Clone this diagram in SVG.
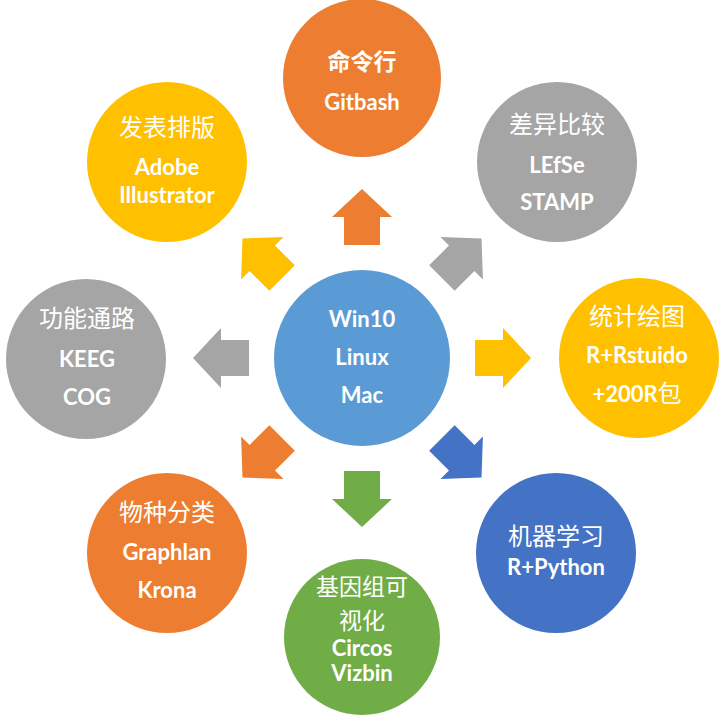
<svg xmlns="http://www.w3.org/2000/svg" width="723" height="715" viewBox="0 0 723 715">
<style>
.lat{font-family:Lato,"Open Sans","Noto Sans CJK SC",sans-serif;font-weight:700;font-size:22px;fill:#fff;text-anchor:middle}
.cjk{font-family:"Noto Sans CJK SC",sans-serif;font-weight:400;font-size:24px;fill:#fff;text-anchor:middle}
.cjkb{font-family:"Noto Sans CJK SC",sans-serif;font-weight:700;font-size:23px;fill:#fff;text-anchor:middle}
.orange{fill:#ED7D31}.grey{fill:#A5A5A5}.gold{fill:#FFC000}.blue{fill:#5B9BD5}.dblue{fill:#4472C4}.green{fill:#70AD47}
</style>
<defs>
<path id="arr" d="M-18,-113 L-18,-141 L-30,-141 L0,-169 L30,-141 L18,-141 L18,-113 Z"/>
</defs>
<rect width="723" height="715" fill="#fff"/>
<g id="connectors" transform="translate(362,358)">
<use href="#arr" class="orange" transform="rotate(0)"/>
<use href="#arr" class="grey" transform="rotate(45)"/>
<use href="#arr" class="gold" transform="rotate(90)"/>
<use href="#arr" class="dblue" transform="rotate(135)"/>
<use href="#arr" class="green" transform="rotate(180)"/>
<use href="#arr" class="orange" transform="rotate(225)"/>
<use href="#arr" class="grey" transform="rotate(270)"/>
<use href="#arr" class="gold" transform="rotate(315)"/>
</g>
<g id="center">
<circle cx="362" cy="358" r="88" class="blue"/>
<text class="lat" x="362" y="327">Win10</text>
<text class="lat" x="362" y="365">Linux</text>
<text class="lat" x="362" y="403">Mac</text>
</g>
<g id="top">
<circle cx="362" cy="78" r="79" class="orange"/>
<text class="cjkb" x="362" y="70">命令行</text>
<text class="lat" x="362" y="110">Gitbash</text>
</g>
<g id="topright">
<circle cx="557" cy="162" r="80" class="grey"/>
<text class="cjk" x="557" y="133">差异比较</text>
<text class="lat" x="557" y="173">LEfSe</text>
<text class="lat" x="557" y="210">STAMP</text>
</g>
<g id="right">
<circle cx="639" cy="358" r="80" class="gold"/>
<text class="cjk" x="637" y="325">统计绘图</text>
<text class="lat" x="637" y="363">R+Rstuido</text>
<text class="lat" x="637" y="402">+200R<tspan class="cjk" style="font-size:24px">包</tspan></text>
</g>
<g id="bottomright">
<circle cx="556" cy="553" r="80" class="dblue"/>
<text class="cjk" x="556" y="545">机器学习</text>
<text class="lat" x="556" y="575">R+Python</text>
</g>
<g id="bottom">
<circle cx="362" cy="637" r="78" class="green"/>
<text class="cjk" x="362" y="595" style="font-size:23px">基因组可</text>
<text class="cjk" x="362" y="629" style="font-size:23px">视化</text>
<text class="lat" x="362" y="656">Circos</text>
<text class="lat" x="362" y="681">Vizbin</text>
</g>
<g id="bottomleft">
<circle cx="167" cy="553" r="80" class="orange"/>
<text class="cjk" x="167" y="521">物种分类</text>
<text class="lat" x="167" y="560">Graphlan</text>
<text class="lat" x="167" y="598">Krona</text>
</g>
<g id="left">
<circle cx="86" cy="359" r="80" class="grey"/>
<text class="cjk" x="87" y="327">功能通路</text>
<text class="lat" x="87" y="367">KEEG</text>
<text class="lat" x="87" y="405">COG</text>
</g>
<g id="topleft">
<circle cx="167" cy="162" r="80" class="gold"/>
<text class="cjk" x="167" y="136">发表排版</text>
<text class="lat" x="167" y="175">Adobe</text>
<text class="lat" x="167" y="203">Illustrator</text>
</g>
</svg>
